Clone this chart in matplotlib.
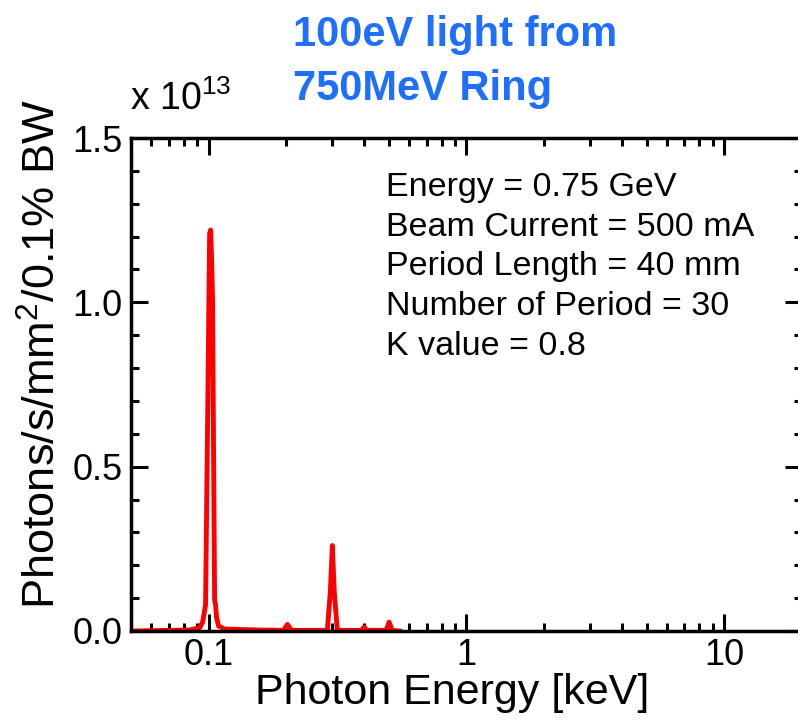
import numpy as np
import matplotlib
matplotlib.use('Agg')
import matplotlib.pyplot as plt
from matplotlib.ticker import FixedLocator, NullFormatter, MultipleLocator

plt.rcParams['font.family'] = ['Liberation Sans', 'DejaVu Sans']
plt.rcParams['mathtext.fontset'] = 'custom'
plt.rcParams['mathtext.rm'] = 'Liberation Sans'

# photon energy [keV] and flux [x 1e13 photons/s/mm^2/0.1% BW]
energy = [0.05, 0.0844, 0.0923, 0.0948, 0.0973, 0.0991, 0.1009, 0.1018, 0.1027,
          0.1036, 0.1045, 0.1055, 0.1064, 0.1074, 0.1093, 0.1153, 0.1574,
          0.195, 0.2021, 0.2095, 0.2886, 0.2965, 0.3018, 0.307, 0.3155,
          0.391, 0.401, 0.412, 0.488, 0.501, 0.515, 0.55]
flux = [0.0, 0.003, 0.01, 0.027, 0.08, 0.64, 1.21, 1.22, 1.13,
        1.0, 0.55, 0.094, 0.08, 0.04, 0.015, 0.006, 0.003,
        0.002, 0.02, 0.002, 0.002, 0.12, 0.26, 0.12, 0.002,
        0.002, 0.012, 0.002, 0.002, 0.027, 0.002, 0.0]

params = ['Energy = 0.75 GeV', 'Beam Current = 500 mA', 'Period Length = 40 mm',
          'Number of Period = 30', 'K value = 0.8']

W, H = 798, 727
fig = plt.figure(figsize=(W / 100, H / 100), dpi=100)
ax = fig.add_axes([131/W, 1-631/H, (802-131)/W, (631-138)/H])

ax.plot(energy, flux, color='red', lw=3.5)

ax.set_xscale('log')
ax.set_xlim(0.05, 20)
ax.set_ylim(0, 1.5)
ax.set_xticks([0.1, 1, 10])
ax.set_xticklabels(['0.1', '1', '10'])
ax.xaxis.set_minor_locator(FixedLocator(
    [m * 10.0**d for d in (-2, -1, 0, 1) for m in range(2, 10)]))
ax.xaxis.set_minor_formatter(NullFormatter())
ax.set_yticks([0, 0.5, 1.0, 1.5])
ax.set_yticklabels(['0.0', '0.5', '1.0', '1.5'])
ax.yaxis.set_minor_locator(MultipleLocator(0.1))

ax.tick_params(which='both', direction='in', top=True, right=True, width=2.2,
               labelsize=26)
ax.tick_params(axis='x', pad=5)
ax.tick_params(axis='y', pad=6)
ax.tick_params(which='major', length=12)
ax.tick_params(which='minor', length=6)
for s in ax.spines.values():
    s.set_linewidth(2.5)

fig.text(452/W, 1-693/H, 'Photon Energy [keV]', fontsize=31, ha='center', va='center')
fig.text(43/W, 1-354/H, 'Photons/s/mm$^2$/0.1% BW', fontsize=32.5, rotation=90,
         ha='center', va='center')

fig.text(130/W, 1-110/H, r'x 10$^{13}$', fontsize=27, ha='left', va='baseline')

fig.text(386/W, 1-172/H, '\n'.join(params), fontsize=24.5, ha='left', va='top',
         linespacing=1.36)

fig.text(293/W, 1-15/H, '100eV light from\n750MeV Ring', color='#1f6fff',
         fontsize=30, fontweight='bold', ha='left', va='top', linespacing=1.45)

fig.savefig('out.png', dpi=100)
